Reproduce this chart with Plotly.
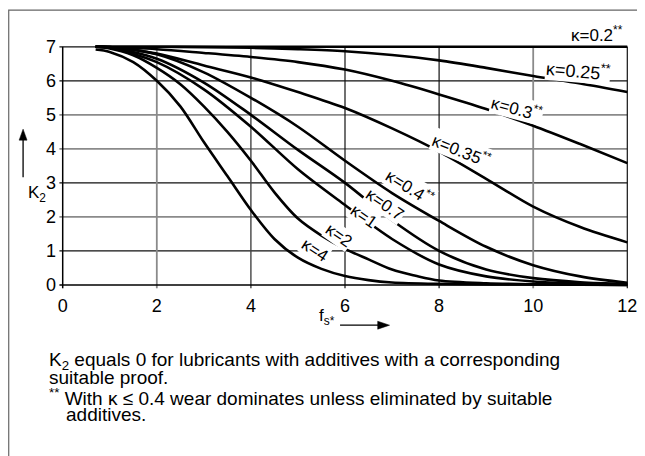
import plotly.graph_objects as go

# ---- data ----
kappa_labels = ["κ=0.2", "κ=0.25", "κ=0.3", "κ=0.35", "κ=0.4", "κ=0.7", "κ=1", "κ=2", "κ=4"]

fs_k020 = [0.7, 2, 4, 6, 8, 10, 12]
k2_k020 = [7.0, 7.0, 7.0, 7.0, 7.0, 7.0, 7.0]

fs_k025 = [0.7, 2, 3, 4, 5, 6, 7, 8, 9, 10, 11, 12]
k2_k025 = [7.0, 7.0, 6.99, 6.97, 6.93, 6.87, 6.76, 6.6, 6.38, 6.14, 5.92, 5.67]

fs_k030 = [0.7, 2, 3, 4, 5, 6, 7, 8, 9, 10, 11, 12]
k2_k030 = [7.0, 6.93, 6.82, 6.7, 6.55, 6.33, 6.0, 5.6, 5.17, 4.68, 4.14, 3.58]

fs_k035 = [0.7, 1, 2, 3, 4, 5, 6, 7, 8, 9, 10, 11, 12]
k2_k035 = [7.0, 6.99, 6.8, 6.45, 6.1, 5.67, 5.2, 4.6, 3.92, 3.12, 2.3, 1.7, 1.25]

fs_k040 = [0.7, 1, 2, 3, 4, 5, 6, 7, 8, 9, 10, 11, 12]
k2_k040 = [7.0, 6.99, 6.78, 6.25, 5.5, 4.65, 3.65, 2.7, 1.88, 1.12, 0.58, 0.25, 0.06]

fs_k070 = [0.7, 1, 2, 3, 4, 5, 6, 7, 8, 9, 10, 11, 12]
k2_k070 = [7.0, 6.98, 6.65, 5.95, 5.0, 3.97, 3.0, 1.9, 1.0, 0.45, 0.2, 0.08, 0.03]

fs_k1 = [0.7, 1, 2, 3, 4, 5, 6, 7, 8, 9, 10, 11, 12]
k2_k1 = [7.0, 6.97, 6.55, 5.75, 4.65, 3.4, 2.35, 1.35, 0.6, 0.25, 0.1, 0.04, 0.01]

fs_k2 = [0.7, 1, 1.5, 2, 2.5, 3, 3.5, 4, 4.5, 5, 5.5, 6, 6.5, 7, 7.5, 8, 9, 10, 12]
k2_k2 = [7.0, 6.95, 6.75, 6.38, 5.9, 5.25, 4.5, 3.65, 2.72, 1.95, 1.45, 1.06, 0.75, 0.45, 0.27, 0.13, 0.05, 0.02, 0.0]

fs_k4 = [0.7, 1, 1.5, 2, 2.5, 3, 3.5, 4, 4.5, 5, 5.5, 6, 6.5, 7, 8, 10, 12]
k2_k4 = [6.92, 6.85, 6.55, 6.0, 5.25, 4.2, 3.2, 2.2, 1.35, 0.8, 0.47, 0.26, 0.14, 0.07, 0.03, 0.01, 0.0]

x_ticks = [0, 2, 4, 6, 8, 10, 12]
y_ticks = [0, 1, 2, 3, 4, 5, 6, 7]

series = [
    (fs_k020, k2_k020), (fs_k025, k2_k025), (fs_k030, k2_k030), (fs_k035, k2_k035),
    (fs_k040, k2_k040), (fs_k070, k2_k070), (fs_k1, k2_k1), (fs_k2, k2_k2), (fs_k4, k2_k4),
]

# ---- styling (scan-like alternating grid tones) ----
DARK, LIGHT = ("#111111", 1.2), ("#8a8a8a", 1.8)
y_grid_style = {1: DARK, 2: LIGHT, 3: DARK, 4: LIGHT, 5: LIGHT, 6: DARK, 7: DARK}
x_grid_style = {2: LIGHT, 4: ("#444444", 1.4), 6: DARK, 8: DARK, 10: LIGHT, 12: DARK}

# ---- layout geometry (page body has an 8px margin) ----
OFF = 8
W, H = 637, 448
X_RANGE = [-0.1, 12.1]
Y_RANGE = [-0.15, 7.2]
ML, MR, MT, MB = 50.25, 7.25, 31.9, 166.2
PW, PH = W - ML - MR, H - MT - MB

def px(xp):
    """screen x pixel -> paper fraction"""
    return (xp - OFF - ML) / PW

def py(yp):
    """screen y pixel -> paper fraction"""
    return (H - MB - (yp - OFF)) / PH

FONT = "Liberation Sans, Arial, sans-serif"

fig = go.Figure()
for (xs, ys), name in zip(series, kappa_labels):
    fig.add_trace(go.Scatter(x=xs, y=ys, mode="lines", name=name,
                             line=dict(color="black", width=2.6, shape="spline", smoothing=0.9),
                             showlegend=False, hoverinfo="skip"))

shapes = []
for yv in y_ticks[1:]:
    col, wd = y_grid_style[yv]
    shapes.append(dict(type="line", xref="x", yref="y", x0=-0.07, x1=x_ticks[-1], y0=yv, y1=yv,
                       line=dict(color=col, width=wd), layer="below"))
for xv in x_ticks[1:]:
    col, wd = x_grid_style[xv]
    shapes.append(dict(type="line", xref="x", yref="y", x0=xv, x1=xv, y0=-0.1, y1=y_ticks[-1],
                       line=dict(color=col, width=wd), layer="below"))
# axis lines
shapes.append(dict(type="line", xref="x", yref="y", x0=0, x1=0, y0=-0.1, y1=y_ticks[-1],
                   line=dict(color="black", width=1.5)))
shapes.append(dict(type="line", xref="x", yref="y", x0=-0.07, x1=x_ticks[-1], y0=0, y1=0,
                   line=dict(color="black", width=1.5)))
# outer frame (right/bottom edges lie outside the picture)
shapes.append(dict(type="rect", xref="paper", yref="paper", x0=px(8.5), x1=px(700), y0=py(500), y1=py(10),
                   line=dict(color="#666666", width=1.2), fillcolor="rgba(0,0,0,0)"))

# arrows for the axis titles
def arrow_up(xs, y_tail, y_tip):
    shapes.append(dict(type="line", xref="paper", yref="paper", x0=px(xs), x1=px(xs),
                       y0=py(y_tail), y1=py(y_tip + 9), line=dict(color="black", width=1.3)))
    path = "M {} {} L {} {} L {} {} Z".format(px(xs), py(y_tip), px(xs - 4), py(y_tip + 11),
                                              px(xs + 4), py(y_tip + 11))
    shapes.append(dict(type="path", xref="paper", yref="paper", path=path,
                       fillcolor="black", line=dict(color="black", width=0.5)))

def arrow_right(yp, x_tail, x_tip):
    shapes.append(dict(type="line", xref="paper", yref="paper", x0=px(x_tail), x1=px(x_tip - 9),
                       y0=py(yp), y1=py(yp), line=dict(color="black", width=1.3)))
    path = "M {} {} L {} {} L {} {} Z".format(px(x_tip), py(yp), px(x_tip - 12), py(yp - 4),
                                              px(x_tip - 12), py(yp + 4))
    shapes.append(dict(type="path", xref="paper", yref="paper", path=path,
                       fillcolor="black", line=dict(color="black", width=0.5)))

arrow_up(23, 177, 129)
arrow_right(325, 343, 393)

ann = []
curve_labels = [
    ("κ=0.2<sup>**</sup>", 602, 34, 0, 17),
    ("κ=0.25<sup>**</sup>", 583, 70, 5, 18),
    ("κ=0.3<sup>**</sup>", 522, 108, 15, 17),
    ("κ=0.35<sup>**</sup>", 466, 150, 22, 17),
    ("κ=0.4<sup>**</sup>", 414, 187, 32, 17),
    ("κ=0.7", 388, 204, 35, 17),
    ("κ=1", 367, 216, 35, 17),
    ("κ=2", 342, 235, 35, 17),
    ("κ=4", 318, 250, 33, 17),
]
for t, xp, yp, ang, fs in curve_labels:
    ann.append(dict(text=t, x=px(xp), y=py(yp), xref="paper", yref="paper", showarrow=False,
                    textangle=ang, font=dict(size=fs, color="black", family=FONT),
                    bgcolor="white" if ang else "rgba(0,0,0,0)", borderpad=0,
                    xanchor="center", yanchor="middle"))

ann.append(dict(text="K<sub>2</sub>", x=px(26), y=py(194), xref="paper", yref="paper", showarrow=False,
                font=dict(size=17, color="black", family=FONT)))
ann.append(dict(text="f<sub>s*</sub>", x=px(330), y=py(330), xref="paper", yref="paper", showarrow=False,
                font=dict(size=17, color="black", family=FONT)))

notes = [
    ("K<sub>2</sub> equals 0 for lubricants with additives with a corresponding", 47, 361),
    ("suitable proof.", 47, 377),
    ("<sup>**</sup> With κ ≤ 0.4 wear dominates unless eliminated by suitable", 47, 397),
    ("additives.", 64, 414),
]
for t, xp, yp in notes:
    ann.append(dict(text=t, x=px(xp), y=py(yp), xref="paper", yref="paper", showarrow=False,
                    xanchor="left", yanchor="middle", font=dict(size=19, color="black", family=FONT)))

fig.update_layout(
    width=W, height=H, margin=dict(l=ML, r=MR, t=MT, b=MB),
    paper_bgcolor="white", plot_bgcolor="white",
    shapes=shapes, annotations=ann,
    xaxis=dict(range=X_RANGE, tickvals=x_ticks, ticktext=[str(v) for v in x_ticks],
               showgrid=False, zeroline=False, showline=False, ticks="",
               tickfont=dict(size=18, color="black", family=FONT), ticklabelstandoff=3),
    yaxis=dict(range=Y_RANGE, tickvals=y_ticks, ticktext=[str(v) for v in y_ticks],
               showgrid=False, zeroline=False, showline=False, ticks="",
               tickfont=dict(size=18, color="black", family=FONT), ticklabelstandoff=1),
)

fig.write_html("out.html")
